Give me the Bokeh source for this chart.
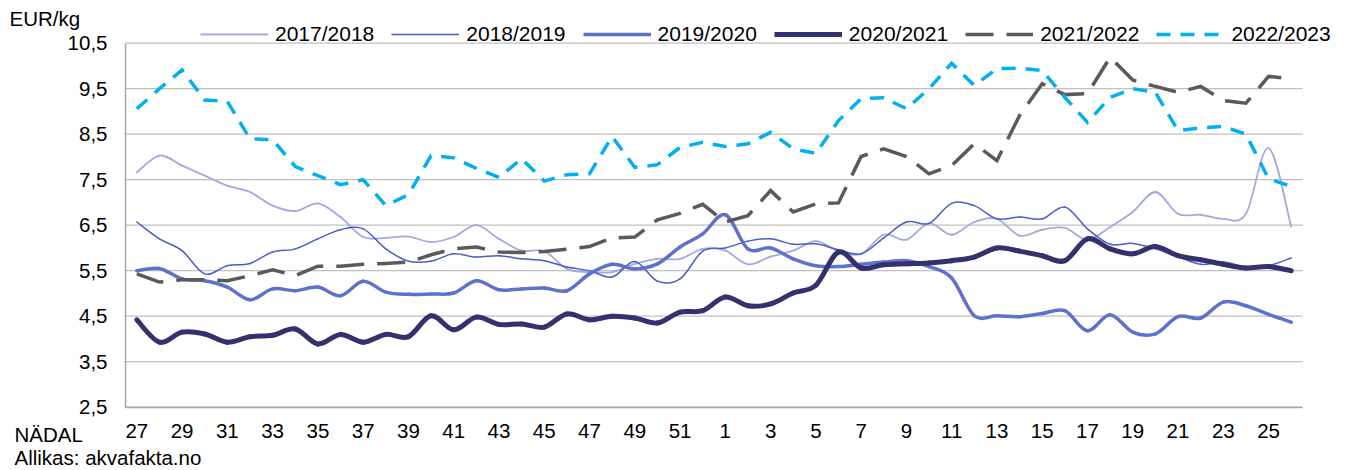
import numpy as np
from bokeh.plotting import figure
from bokeh.models import (ColumnDataSource, FixedTicker, CustomJSTickFormatter, Legend,
                          LegendItem, Label, Range1d)
from bokeh.embed import file_html
from bokeh.resources import INLINE

# ---------------- data ----------------
weeks = [27, 28, 29, 30, 31, 32, 33, 34, 35, 36, 37, 38, 39, 40, 41, 42, 43, 44, 45, 46,
         47, 48, 49, 50, 51, 52, 1, 2, 3, 4, 5, 6, 7, 8, 9, 10, 11, 12, 13, 14, 15, 16,
         17, 18, 19, 20, 21, 22, 23, 24, 25, 26]

y_ticks = [2.5, 3.5, 4.5, 5.5, 6.5, 7.5, 8.5, 9.5, 10.5]

s2017_2018 = [7.66, 8.03, 7.81, 7.59, 7.37, 7.23, 6.93, 6.81, 6.98, 6.68, 6.24, 6.22, 6.25,
              6.13, 6.24, 6.50, 6.20, 5.94, 5.93, 5.54, 5.47, 5.47, 5.65, 5.76, 5.76, 5.98,
              5.94, 5.64, 5.81, 5.94, 6.15, 5.93, 5.87, 6.29, 6.18, 6.54, 6.29, 6.57, 6.64,
              6.27, 6.40, 6.44, 6.18, 6.46, 6.79, 7.23, 6.75, 6.73, 6.64, 6.75, 8.20, 6.47]

s2018_2019 = [6.57, 6.20, 5.94, 5.43, 5.61, 5.66, 5.91, 5.98, 6.20, 6.40, 6.42, 5.98, 5.71,
              5.71, 5.87, 5.80, 5.83, 5.76, 5.72, 5.58, 5.50, 5.36, 5.70, 5.27, 5.32, 5.93,
              6.00, 6.15, 6.20, 6.08, 6.09, 5.96, 5.87, 6.22, 6.57, 6.54, 6.98, 6.93, 6.64,
              6.68, 6.64, 6.90, 6.42, 6.08, 6.10, 5.98, 5.81, 5.64, 5.69, 5.58, 5.61, 5.78]

s2019_2020 = [5.50, 5.55, 5.32, 5.28, 5.14, 4.86, 5.10, 5.06, 5.14, 4.95, 5.27, 5.03, 4.98,
              4.99, 5.01, 5.28, 5.08, 5.10, 5.12, 5.06, 5.43, 5.64, 5.54, 5.65, 6.02, 6.31,
              6.73, 5.98, 6.00, 5.76, 5.61, 5.59, 5.64, 5.69, 5.72, 5.59, 5.34, 4.51, 4.51,
              4.49, 4.56, 4.62, 4.18, 4.53, 4.15, 4.11, 4.49, 4.46, 4.81, 4.73, 4.54, 4.37]

s2020_2021 = [4.42, 3.93, 4.15, 4.11, 3.93, 4.05, 4.08, 4.22, 3.89, 4.10, 3.93, 4.10, 4.05,
              4.51, 4.20, 4.48, 4.32, 4.33, 4.26, 4.55, 4.42, 4.50, 4.46, 4.35, 4.59, 4.62,
              4.92, 4.73, 4.77, 5.01, 5.18, 5.91, 5.56, 5.63, 5.65, 5.67, 5.72, 5.80, 6.00,
              5.93, 5.83, 5.72, 6.20, 5.98, 5.87, 6.03, 5.83, 5.74, 5.64, 5.56, 5.59, 5.50]

s2021_2022 = [5.43, 5.25, 5.30, 5.30, 5.28, 5.39, 5.52, 5.39, 5.60, 5.60, 5.64, 5.66, 5.69,
              5.85, 5.98, 6.02, 5.91, 5.90, 5.92, 5.97, 6.03, 6.22, 6.24, 6.62, 6.76, 6.96,
              6.57, 6.71, 7.26, 6.79, 6.97, 6.99, 8.01, 8.18, 8.01, 7.63, 7.81, 8.29, 7.92,
              8.91, 9.61, 9.37, 9.39, 10.19, 9.69, 9.55, 9.42, 9.55, 9.24, 9.18, 9.77, 9.72]

s2022_2023 = [9.06, 9.50, 9.91, 9.25, 9.22, 8.40, 8.38, 7.79, 7.59, 7.39, 7.50, 6.93, 7.17,
              8.03, 7.98, 7.75, 7.55, 7.96, 7.47, 7.61, 7.63, 8.45, 7.77, 7.83, 8.21, 8.32,
              8.23, 8.29, 8.54, 8.18, 8.08, 8.80, 9.28, 9.30, 9.06, 9.50, 10.06, 9.57, 9.94,
              9.95, 9.90, 9.31, 8.76, 9.31, 9.50, 9.42, 8.58, 8.64, 8.67, 8.50, 7.52, 7.35]

series_names = ["2017/2018", "2018/2019", "2019/2020", "2020/2021", "2021/2022", "2022/2023"]
series_values = [s2017_2018, s2018_2019, s2019_2020, s2020_2021, s2021_2022, s2022_2023]

# ---------------- styles / layout ----------------
styles = [
    dict(color="#A3AAE0", width=1.8, dash="solid", smooth=True),
    dict(color="#4B5EC6", width=1.5, dash="solid", smooth=True),
    dict(color="#5F72CB", width=3.5, dash="solid", smooth=True),
    dict(color="#34316F", width=5.0, dash="solid", smooth=True),
    dict(color="#5A5A5A", width=3.5, dash="28 13", smooth=False),
    dict(color="#00B0F0", width=3.5, dash="14 10", smooth=False),
]

FONT = "Liberation Sans"
W, H = 1354, 470
# plot area (pixels inside the canvas)
PL, PR, PT, PB = 125.0, 1302.0, 42.7, 406.7

n = len(weeks)
x_lo, x_hi = -0.5, n - 0.5
y_lo, y_hi = y_ticks[0], y_ticks[-1]
sx = (PR - PL) / (x_hi - x_lo)
sy = (PB - PT) / (y_hi - y_lo)

p = figure(width=W, height=H, output_backend="svg", toolbar_location=None,
           x_range=Range1d(x_lo - PL / sx, x_hi + (W - PR) / sx),
           y_range=Range1d(y_lo - (H - PB) / sy, y_hi + PT / sy),
           min_border=0, min_border_left=0, min_border_right=0,
           min_border_top=0, min_border_bottom=0)
p.outline_line_color = None
p.background_fill_color = "white"
p.border_fill_color = "white"
p.xgrid.visible = False
p.ygrid.visible = False

# horizontal gridlines limited to the plot area
grid_src = ColumnDataSource(dict(x0=[x_lo] * len(y_ticks), x1=[x_hi] * len(y_ticks),
                                 y=y_ticks))
p.segment(x0="x0", y0="y", x1="x1", y1="y", source=grid_src,
          line_color="#C0C0C0", line_width=1.2)


def bezier_data(vals):
    y = np.asarray(vals, dtype=float)
    m = len(y)
    x = np.arange(m, dtype=float)
    xp = np.concatenate([[x[0]], x, [x[-1]]])
    yp = np.concatenate([[y[0]], y, [y[-1]]])
    return dict(
        x0=x[:-1], y0=y[:-1], x1=x[1:], y1=y[1:],
        cx0=xp[1:m] + (xp[2:m + 1] - xp[0:m - 1]) / 6.0,
        cy0=yp[1:m] + (yp[2:m + 1] - yp[0:m - 1]) / 6.0,
        cx1=xp[2:m + 1] - (xp[3:m + 2] - xp[1:m]) / 6.0,
        cy1=yp[2:m + 1] - (yp[3:m + 2] - yp[1:m]) / 6.0,
    )


legend_items = []
for name, vals, st in zip(series_names, series_values, styles):
    if st["smooth"]:
        src = ColumnDataSource(bezier_data(vals))
        p.bezier(x0="x0", y0="y0", x1="x1", y1="y1", cx0="cx0", cy0="cy0",
                 cx1="cx1", cy1="cy1", source=src, line_color=st["color"],
                 line_width=st["width"], line_cap="round")
    else:
        src = ColumnDataSource(dict(x=list(range(len(vals))), y=vals))
        p.line("x", "y", source=src, line_color=st["color"], line_width=st["width"],
               line_dash=st["dash"], line_join="miter")
    # legend sample: a single NaN point, so nothing is drawn in the plot itself
    dummy = p.line(x=[np.nan], y=[np.nan], line_color=st["color"], line_width=st["width"],
                   line_dash=st["dash"])
    legend_items.append(LegendItem(label=name, renderers=[dummy]))

legend = Legend(items=legend_items, orientation="horizontal", location=(200, H - 46),
                glyph_width=68, glyph_height=20, label_standoff=7, spacing=17,
                padding=0, margin=0, border_line_color=None, background_fill_alpha=0,
                label_text_font=FONT, label_text_font_size="21px", label_text_color="black")
p.add_layout(legend)

# ---------------- axes (fixed at the plot-area edges) ----------------
p.yaxis.fixed_location = x_lo
p.xaxis.fixed_location = y_lo
p.yaxis.bounds = (y_lo, y_hi)
p.xaxis.bounds = (x_lo, x_hi)
p.yaxis.ticker = FixedTicker(ticks=y_ticks)
p.yaxis.formatter = CustomJSTickFormatter(code="return tick.toFixed(1).replace('.', ',');")
p.xaxis.ticker = FixedTicker(ticks=list(range(0, n, 2)))
p.xaxis.formatter = CustomJSTickFormatter(args=dict(weeks=weeks),
                                          code="return String(weeks[Math.round(tick)]);")
for ax in (p.xaxis, p.yaxis):
    ax.major_tick_line_color = None
    ax.minor_tick_line_color = None
    ax.major_tick_out = 0
    ax.major_tick_in = 0
    ax.axis_line_color = "#A6A6A6"
    ax.axis_line_width = 1.5
    ax.major_label_text_font = FONT
    ax.major_label_text_font_size = "20.5px"
    ax.major_label_text_color = "black"
p.yaxis.major_label_standoff = 18
p.xaxis.major_label_standoff = 17

# ---------------- texts ----------------
for txt, x, base in [("EUR/kg", 9, 18), ("NÄDAL", 14, 434),
                     ("Allikas: akvafakta.no", 14, 457)]:
    p.add_layout(Label(x=x, y=H - base, x_units="screen", y_units="screen", text=txt,
                       text_font=FONT, text_font_size="20.5px", text_color="black",
                       text_baseline="alphabetic", text_align="left"))

open("out.html", "w").write(file_html(p, INLINE))
